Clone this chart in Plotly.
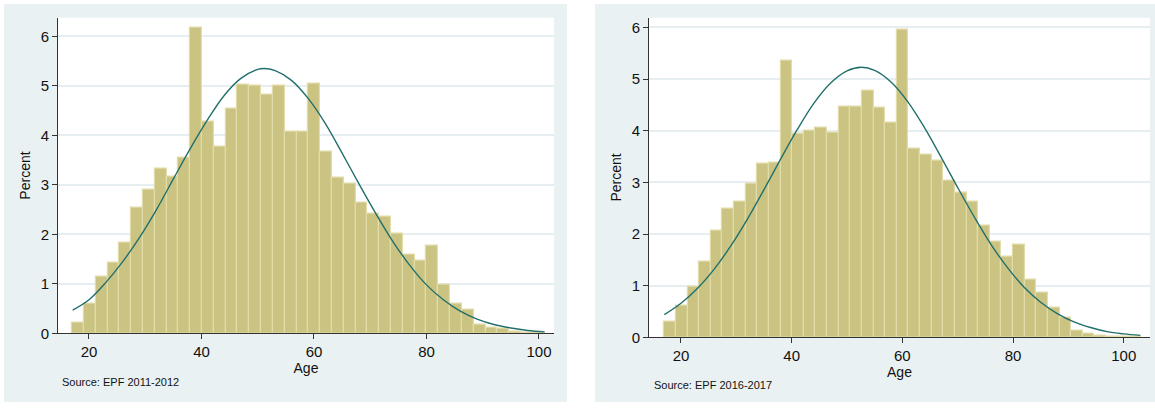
import plotly.graph_objects as go

# ---------------- data ----------------
bin_start = 17.0
bin_width = 2.1

pct_2011 = [0.22, 0.61, 1.15, 1.43, 1.84, 2.53, 2.90, 3.32, 3.17, 3.54,
            6.18, 4.27, 3.78, 4.54, 5.02, 5.00, 4.83, 5.01, 4.07, 4.08,
            5.04, 3.68, 3.15, 3.02, 2.65, 2.41, 2.35, 2.02, 1.60, 1.46,
            1.78, 0.98, 0.61, 0.48, 0.18, 0.11, 0.10, 0.03, 0.02, 0.01]

pct_2016 = [0.30, 0.62, 0.98, 1.46, 2.07, 2.49, 2.63, 2.97, 3.36, 3.39,
            5.36, 3.94, 4.00, 4.06, 3.97, 4.46, 4.46, 4.77, 4.45, 4.16,
            5.96, 3.65, 3.54, 3.43, 3.03, 2.81, 2.62, 2.17, 1.86, 1.56,
            1.80, 1.11, 0.87, 0.57, 0.39, 0.13, 0.08, 0.04, 0.02, 0.01, 0.01]

curve_age_2011 = [17.1, 20, 23, 26, 29, 32, 35, 38, 41, 44, 47, 50, 51.2, 53, 56,
                  59, 62, 65, 68, 71, 74, 77, 80, 83, 86, 89, 92, 95, 98, 101]
curve_pct_2011 = [0.47, 0.68, 1.03, 1.45, 1.94, 2.50, 3.12, 3.73, 4.30, 4.80, 5.15,
                  5.33, 5.35, 5.31, 5.11, 4.74, 4.24, 3.64, 3.02, 2.42, 1.86, 1.38,
                  0.98, 0.68, 0.45, 0.29, 0.18, 0.11, 0.06, 0.03]

curve_age_2016 = [17, 20, 23, 26, 29, 32, 35, 38, 41, 44, 47, 50, 52.6, 55, 58,
                  61, 64, 67, 70, 73, 76, 79, 82, 85, 88, 91, 94, 97, 100, 103]
curve_pct_2016 = [0.44, 0.66, 0.95, 1.32, 1.77, 2.29, 2.86, 3.45, 4.02, 4.53, 4.92,
                  5.16, 5.23, 5.17, 4.94, 4.56, 4.06, 3.49, 2.90, 2.33, 1.80, 1.35,
                  0.97, 0.68, 0.46, 0.30, 0.19, 0.11, 0.066, 0.037]

x_ticks = [20, 40, 60, 80, 100]
y_ticks = [0, 1, 2, 3, 4, 5, 6]
sources = ["Source: EPF 2011-2012", "Source: EPF 2016-2017"]

# ---------------- styles ----------------
W, H = 1155, 412
BAR = "#cbc382"
BAR_LINE = "#e2dca9"
CURVE = "#22706c"
PANEL = "#eaf1f3"
GRID = "#e6eef1"
FONT = "Liberation Sans, Arial, sans-serif"

def centers(vals):
    return [bin_start + bin_width * (i + 0.5) for i in range(len(vals))]

fig = go.Figure()
fig.add_trace(go.Bar(x=centers(pct_2011), y=pct_2011, width=bin_width,
                     marker=dict(color=BAR, line=dict(color=BAR_LINE, width=1.2)),
                     xaxis="x", yaxis="y", showlegend=False))
fig.add_trace(go.Scatter(x=curve_age_2011, y=curve_pct_2011, mode="lines",
                         line=dict(color=CURVE, width=1.4, shape="spline"),
                         xaxis="x", yaxis="y", showlegend=False))
fig.add_trace(go.Bar(x=centers(pct_2016), y=pct_2016, width=bin_width,
                     marker=dict(color=BAR, line=dict(color=BAR_LINE, width=1.2)),
                     xaxis="x2", yaxis="y2", showlegend=False))
fig.add_trace(go.Scatter(x=curve_age_2016, y=curve_pct_2016, mode="lines",
                         line=dict(color=CURVE, width=1.4, shape="spline"),
                         xaxis="x2", yaxis="y2", showlegend=False))

def px_x(p):
    return p / W

def px_y(p):
    return (H - p) / H

common_x = dict(tickvals=x_ticks, ticks="outside", ticklen=5, tickwidth=1,
                tickcolor="#333", showline=True, linecolor="#333", linewidth=1,
                showgrid=False, zeroline=False,
                tickfont=dict(family=FONT, size=15, color="#111"),
                title=dict(text="Age", font=dict(family=FONT, size=14, color="#111"),
                           standoff=0))
common_y = dict(tickvals=y_ticks, ticks="outside", ticklen=5, tickwidth=1,
                tickcolor="#333", showline=True, linecolor="#333", linewidth=1,
                showgrid=True, gridcolor=GRID, gridwidth=1.5, zeroline=False,
                tickfont=dict(family=FONT, size=15, color="#111"),
                title=dict(text="Percent", font=dict(family=FONT, size=14, color="#111"),
                           standoff=6))

fig.update_layout(
    width=W, height=H, margin=dict(l=0, r=0, t=0, b=0),
    paper_bgcolor="white", plot_bgcolor="white",
    barmode="overlay", bargap=0,
    xaxis=dict(domain=[px_x(58), px_x(554)], range=[14.49, 102.67], anchor="y", **common_x),
    yaxis=dict(domain=[px_y(340), px_y(18)], range=[0, 6.376], anchor="x", **common_y),
    xaxis2=dict(domain=[px_x(649), px_x(1150)], range=[14.22, 104.75], anchor="y2", **common_x),
    yaxis2=dict(domain=[px_y(344), px_y(18)], range=[0, 6.19], anchor="x2", **common_y),
    shapes=[
        dict(type="rect", xref="paper", yref="paper", x0=px_x(4), x1=px_x(567),
             y0=px_y(410), y1=px_y(4), fillcolor=PANEL, line=dict(width=0), layer="below"),
        dict(type="rect", xref="paper", yref="paper", x0=px_x(595), x1=px_x(1155),
             y0=px_y(410), y1=px_y(4), fillcolor=PANEL, line=dict(width=0), layer="below"),
        dict(type="rect", xref="paper", yref="paper", x0=px_x(58), x1=px_x(554),
             y0=px_y(340), y1=px_y(18), fillcolor="white", line=dict(width=0), layer="below"),
        dict(type="rect", xref="paper", yref="paper", x0=px_x(649), x1=px_x(1150),
             y0=px_y(344), y1=px_y(18), fillcolor="white", line=dict(width=0), layer="below"),
    ],
    annotations=[
        dict(text=sources[0], xref="paper", yref="paper", x=px_x(60), y=px_y(390),
             xanchor="left", yanchor="middle", showarrow=False,
             font=dict(family=FONT, size=11, color="#111")),
        dict(text=sources[1], xref="paper", yref="paper", x=px_x(652), y=px_y(393),
             xanchor="left", yanchor="middle", showarrow=False,
             font=dict(family=FONT, size=11, color="#111")),
    ],
)

fig.write_html("out.html")
